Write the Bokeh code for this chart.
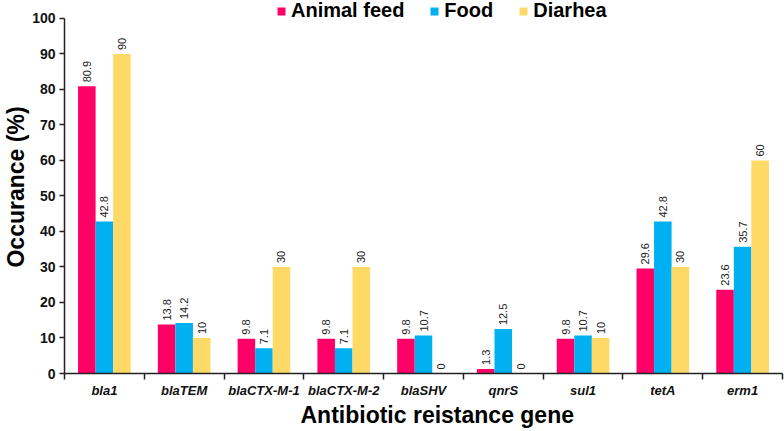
import numpy as np
from bokeh.plotting import figure
from bokeh.models import Range1d, FixedTicker, Legend, LegendItem, ColumnDataSource, Title
from bokeh.core.properties import value
from bokeh.embed import file_html
from bokeh.resources import INLINE

genes = ["bla1", "blaTEM", "blaCTX-M-1", "blaCTX-M-2", "blaSHV", "qnrS", "sul1", "tetA", "erm1"]
animal_feed = [80.9, 13.8, 9.8, 9.8, 9.8, 1.3, 9.8, 29.6, 23.6]
food = [42.8, 14.2, 7.1, 7.1, 10.7, 12.5, 10.7, 42.8, 35.7]
diarhea = [90, 10, 30, 30, 0, 0, 10, 30, 60]
y_ticks = [0, 10, 20, 30, 40, 50, 60, 70, 80, 90, 100]

series = [("Animal feed", animal_feed, "#FF0066"),
          ("Food", food, "#00B0F0"),
          ("Diarhea", diarhea, "#FFD966")]

FONT = "Liberation Sans"
W = 0.22

p = figure(width=784, height=431, output_backend="svg", toolbar_location=None,
           x_range=Range1d(0, len(genes)), y_range=Range1d(0, 105.07),
           min_border_left=61, min_border_right=2, min_border_top=0, min_border_bottom=58)
p.outline_line_color = None
p.xgrid.grid_line_color = None
p.ygrid.grid_line_color = None
p.background_fill_color = "white"

centers = np.arange(len(genes)) + 0.5
items = []
for k, (name, vals, col) in enumerate(series):
    xs = centers + (k - 1) * W
    src = ColumnDataSource(dict(x=xs, top=vals, lab=[("%g" % v) for v in vals]))
    r = p.vbar(x="x", top="top", width=W, bottom=0, source=src, fill_color=col, line_color=None)
    items.append(LegendItem(label=name, renderers=[r]))
    p.text(x="x", y="top", text="lab", source=src, angle=np.pi / 2, text_align="left",
           text_baseline="middle", x_offset=0, y_offset=-4, text_font_size="11px",
           text_font=value(FONT), text_color="#222222")

# axes
xa = p.xaxis[0]
xa.ticker = FixedTicker(ticks=list(centers), minor_ticks=list(range(len(genes) + 1)))
xa.major_label_overrides = {float(c): g for c, g in zip(centers, genes)}
xa.major_tick_line_color = None
xa.minor_tick_in = 0
xa.minor_tick_out = 6
xa.minor_tick_line_color = "#222222"
xa.minor_tick_line_width = 1.5
xa.axis_line_color = "#222222"
xa.axis_line_width = 1.5
xa.major_label_text_font = FONT
xa.major_label_text_font_style = "bold italic"
xa.major_label_text_font_size = "13px"
xa.major_label_text_color = "#111111"
xa.major_label_standoff = 3

xtitle = Title(text="Antibiotic reistance gene", align="left", offset=236, standoff=-2,
               text_font=FONT, text_font_style="bold", text_font_size="23px",
               text_color="#000000")
p.add_layout(xtitle, "below")

ya = p.yaxis[0]
ya.ticker = FixedTicker(ticks=y_ticks)
ya.bounds = (0, 100)
ya.minor_tick_line_color = None
ya.major_tick_in = 0
ya.major_tick_out = 5
ya.major_tick_line_color = "#222222"
ya.major_tick_line_width = 1.5
ya.axis_line_color = "#222222"
ya.axis_line_width = 1.5
ya.major_label_text_font = FONT
ya.major_label_text_font_style = "bold"
ya.major_label_text_font_size = "14px"
ya.major_label_text_color = "#111111"
ya.major_label_standoff = 4
ya.axis_label = "Occurance (%)"
ya.axis_label_text_font = FONT
ya.axis_label_text_font_style = "bold"
ya.axis_label_text_font_size = "23px"
ya.axis_label_text_color = "#000000"
ya.axis_label_standoff = 0

legend = Legend(items=items, orientation="horizontal", location=(212, 351),
                padding=0, margin=0, spacing=25, label_standoff=5,
                glyph_width=10, glyph_height=10, label_height=17,
                label_text_font=FONT, label_text_font_style="bold",
                label_text_font_size="20px", label_text_color="#000000",
                border_line_color=None, background_fill_alpha=0)
p.add_layout(legend, "center")

open("out.html", "w").write(file_html(p, INLINE))
